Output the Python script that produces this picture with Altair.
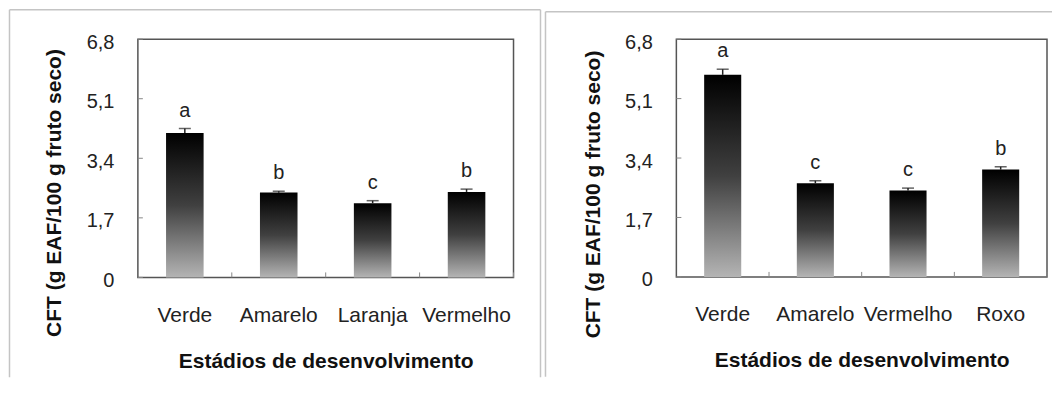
import altair as alt
import pandas as pd

# ---- data ----
left_cats = ["Verde", "Amarelo", "Laranja", "Vermelho"]
left_vals = [4.12, 2.42, 2.12, 2.44]
left_errs = [0.13, 0.04, 0.07, 0.08]
left_letters = ["a", "b", "c", "b"]

right_cats = ["Verde", "Amarelo", "Vermelho", "Roxo"]
right_vals = [5.78, 2.68, 2.47, 3.07]
right_errs = [0.16, 0.07, 0.07, 0.08]
right_letters = ["a", "c", "c", "b"]

tick_vals = [0, 1.7, 3.4, 5.1, 6.8]

Y_TITLE = "CFT (g EAF/100 g fruto seco)"
X_TITLE = "Estádios de desenvolvimento"
FONT = "Liberation Sans"

grad = alt.LinearGradient(
    gradient="linear",
    stops=[
        alt.GradientStop(color="#000000", offset=0),
        alt.GradientStop(color="#404040", offset=0.5),
        alt.GradientStop(color="#b4b4b4", offset=1),
    ],
    x1=0, x2=0, y1=0, y2=1,
)


def panel(cats, vals, errs, letters, width, height, title_x, title_y,
          bx1, bx2, by1, by2, right_border=True):
    df = pd.DataFrame({"cat": cats, "val": vals, "err": errs, "letter": letters})
    df["top"] = df["val"] + df["err"]
    ticks_df = pd.DataFrame({"t": tick_vals})

    xscale = alt.Scale(paddingInner=0.6, paddingOuter=0.3)
    xaxis = alt.Axis(title=X_TITLE, labelAngle=0, labelPadding=27, titlePadding=25)
    yscale = alt.Scale(domain=[0, 6.8], nice=False, zero=True)
    yaxis = alt.Axis(
        title=Y_TITLE, values=tick_vals,
        labelExpr="datum.value == 0 ? '0' : replace(format(datum.value, '.1f'), '.', ',')",
        labelPadding=24, labelOffset=3, labelFontSize=20,
        titleX=title_x, titleY=title_y, titleAngle=270,
        titleAlign="center", titleBaseline="middle",
    )

    def X(**kw):
        return alt.X("cat:N", sort=cats, scale=xscale, axis=xaxis, **kw)

    step = width / len(cats)
    base = alt.Chart(df)
    err_rule = base.mark_rule(color="#222222", strokeWidth=1.5).encode(
        x=X(), y=alt.Y("val:Q", scale=yscale, axis=yaxis), y2="top:Q")
    cap = base.mark_tick(color="#222222", size=12, thickness=1.5, orient="horizontal").encode(
        x=X(), y=alt.Y("top:Q", scale=yscale, axis=yaxis))
    bars = base.mark_bar(color=grad).encode(
        x=X(), y=alt.Y("val:Q", scale=yscale, axis=yaxis))
    letters_t = base.mark_text(dy=-12, baseline="alphabetic", fontSize=20, font=FONT,
                               color="#222222").encode(
        x=X(), y=alt.Y("top:Q", scale=yscale, axis=yaxis), text="letter:N")
    # small inward ticks at the category boundaries
    xticks = base.mark_rule(color="#888888", strokeWidth=1, xOffset=0.3 * step).encode(
        x=X(bandPosition=1), y=alt.value(height), y2=alt.value(height - 5))
    yticks = alt.Chart(ticks_df).mark_rule(color="#888888", strokeWidth=1).encode(
        y=alt.Y("t:Q", scale=yscale, axis=yaxis), x=alt.value(0), x2=alt.value(5))

    one = alt.Chart(pd.DataFrame({"d": [0]}))
    bc = "#c4c4c4"
    sw = 1.5
    borders = [
        one.mark_rule(color=bc, strokeWidth=sw).encode(
            x=alt.value(bx1), y=alt.value(by1), y2=alt.value(by2)),
        one.mark_rule(color=bc, strokeWidth=sw).encode(
            x=alt.value(bx1), x2=alt.value(bx2), y=alt.value(by1)),
    ]
    if right_border:
        borders.append(one.mark_rule(color=bc, strokeWidth=sw).encode(
            x=alt.value(bx2), y=alt.value(by1), y2=alt.value(by2)))

    return alt.layer(*borders, yticks, xticks, err_rule, bars, cap, letters_t).properties(
        width=width, height=height)


left = panel(left_cats, left_vals, left_errs, left_letters, 376, 238.5,
             title_x=-83, title_y=153.5, bx1=-128.5, bx2=403, by1=-29.5, by2=338.5)
right = panel(right_cats, right_vals, right_errs, right_letters, 371, 238,
              title_x=-83, title_y=155, bx1=-131, bx2=376, by1=-27.5, by2=338,
              right_border=False)

chart = alt.hconcat(left, right, spacing=1).properties(
    padding={"left": 0, "top": 0, "right": 0, "bottom": 0}
).configure_view(
    stroke="#555555", strokeWidth=1.5
).configure_axis(
    domain=False, ticks=False, grid=False,
    labelFont=FONT, titleFont=FONT, labelFontSize=21, titleFontSize=21,
    labelColor="#222222", titleColor="#111111", titleFontWeight="bold",
)

chart.save("out.html", embed_options={"renderer": "svg", "actions": False})
